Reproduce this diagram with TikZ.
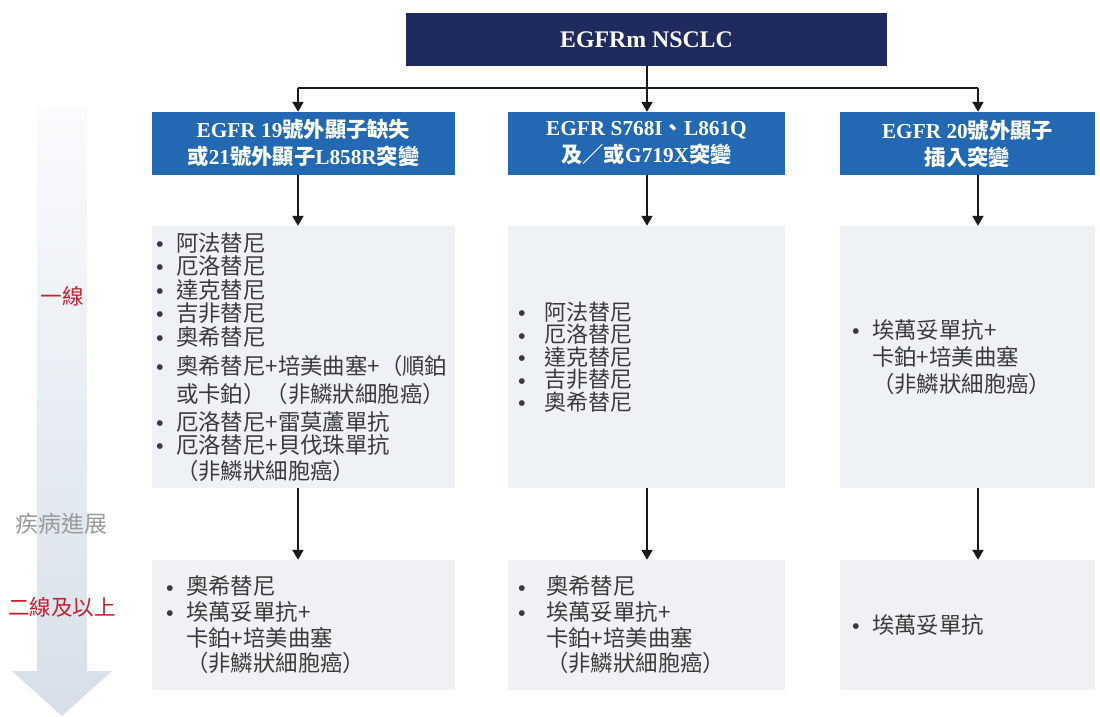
\documentclass[tikz,border=0pt]{standalone}
\usepackage{fontspec}
\setmainfont{Liberation Serif}
\newfontfamily\cjk{Noto Sans CJK TC}
\newfontfamily\lat{Liberation Serif}
\newfontfamily\sym{DejaVu Sans}
\usetikzlibrary{arrows.meta,calc}
\definecolor{navy}{HTML}{1F2A5E}
\definecolor{hblue}{HTML}{2268B2}
\definecolor{firstfill}{HTML}{EEF2F6}
\definecolor{secfill}{HTML}{F0F1F4}
\definecolor{txt}{HTML}{3A3A3A}
\definecolor{lred}{HTML}{C8202F}
\definecolor{lgray}{HTML}{9A9A9A}
\definecolor{arrtop}{HTML}{FAFBFD}
\definecolor{arrbot}{HTML}{D6DFE9}
\newcommand\bl[1]{\makebox[#1][l]{\hspace*{1pt}\raisebox{4.6pt}{\sym\fontsize{7.5}{8}\selectfont ●}}}
\newcommand\ind[1]{\hspace*{#1}}
\tikzset{
  topbox/.style={fill=navy, text=white, minimum width=481pt, minimum height=53pt, inner sep=0pt,
    font=\lat\bfseries\fontsize{23.8}{26}\selectfont},
  headbox/.style={fill=hblue, text=white, minimum height=63pt, inner sep=0pt, align=center,
    font=\fontsize{21.3}{27}\selectfont},
  firstbox/.style={fill=firstfill, text=txt, minimum height=262pt, inner ysep=0pt, align=left,
    font=\cjk\fontsize{22.4}{23.5}\selectfont},
  secbox/.style={fill=secfill, text=txt, minimum height=130pt, inner ysep=0pt, align=left,
    font=\cjk\fontsize{22.4}{25.7}\selectfont},
  conn/.style={line width=2pt, draw=black!90},
  arr/.style={conn, -{Triangle[width=11pt,length=10pt]}},
  redlbl/.style={text=lred, font=\cjk\fontsize{21.5}{24}\selectfont, inner sep=0pt},
  graylbl/.style={text=lgray, font=\cjk\fontsize{23}{24}\selectfont, inner sep=0pt},
}
\newcommand\hl[1]{{\lat\bfseries #1}}
\newcommand\hc[1]{{\cjk\bfseries #1}}
\begin{document}
\begin{tikzpicture}[x=1pt,y=-1pt]
\useasboundingbox (0,0) rectangle (1100,716);
% progression arrow
\shade[top color=arrtop, bottom color=arrbot]
  (37,108) -- (87,108) -- (87,671) -- (112,671) -- (62,716) -- (12,671) -- (37,671) -- cycle;
\node[redlbl] (first) at (62,296) {一線};
\node[graylbl] (prog) at (62,524) {疾病進展};
\node[redlbl] (second) at (62,607) {二線及以上};

% top
\node[topbox] (top) at (646.5,39.5) {EGFRm NSCLC};
% headers
\node[headbox, minimum width=303pt] (b1) at (303.5,143.5)
  {\hl{EGFR 19}\hc{號外顯子缺失}\\\hc{或}\hl{21}\hc{號外顯子}\hl{L858R}\hc{突變}};
\node[headbox, minimum width=277pt] (b2) at (646.5,143.5)
  {\hl{EGFR S768I}\hc{、}\hl{L861Q}\\\hc{及／或}\hl{G719X}\hc{突變}};
\node[headbox, minimum width=255pt] (b3) at (967.5,143.5)
  {\hl{EGFR 20}\hc{號外顯子}\\\hc{插入突變}};

% first line boxes
\node[firstbox, inner xsep=3.5pt, text width=296pt] (f1) at (303.5,357)
  {\bl{20.5pt}阿法替尼\\
   \bl{20.5pt}厄洛替尼\\
   \bl{20.5pt}達克替尼\\
   \bl{20.5pt}吉非替尼\\
   \bl{20.5pt}奧希替尼\\[5.5pt]
   \bl{20.5pt}奧希替尼+培美曲塞+（順鉑\\[4.5pt]
   \ind{20.5pt}或卡鉑）（非鱗狀細胞癌）\\[4.5pt]
   \bl{20.5pt}厄洛替尼+雷莫蘆單抗\\
   \bl{20.5pt}厄洛替尼+貝伐珠單抗\\[2.5pt]
   \ind{20.5pt}（非鱗狀細胞癌）};
\node[firstbox, inner xsep=9.5pt, text width=258pt,
      font=\cjk\fontsize{22}{22.5}\selectfont] (f2) at (646.5,357)
  {\bl{26.5pt}阿法替尼\\
   \bl{26.5pt}厄洛替尼\\
   \bl{26.5pt}達克替尼\\
   \bl{26.5pt}吉非替尼\\
   \bl{26.5pt}奧希替尼};
\node[firstbox, inner xsep=11.5pt, text width=232pt,
      font=\cjk\fontsize{22.4}{27}\selectfont] (f3) at (967.5,357)
  {\bl{20.5pt}埃萬妥單抗+\\
   \ind{20.5pt}卡鉑+培美曲塞\\
   \ind{20.5pt}（非鱗狀細胞癌）};

% second line boxes
\node[secbox, inner xsep=13.5pt, text width=276pt] (s1) at (303.5,625)
  {\bl{20.5pt}奧希替尼\\
   \bl{20.5pt}埃萬妥單抗+\\
   \ind{20.5pt}卡鉑+培美曲塞\\
   \ind{20.5pt}（非鱗狀細胞癌）};
\node[secbox, inner xsep=9.5pt, text width=258pt] (s2) at (646.5,625)
  {\bl{28.5pt}奧希替尼\\
   \bl{28.5pt}埃萬妥單抗+\\
   \ind{28.5pt}卡鉑+培美曲塞\\
   \ind{28.5pt}（非鱗狀細胞癌）};
\node[secbox, inner xsep=11.5pt, text width=232pt] (s3) at (967.5,625)
  {\bl{20.5pt}埃萬妥單抗};

% connectors
\coordinate (c1) at (298,88);
\coordinate (j) at (647,88);
\coordinate (c3) at (978,88);
\draw[conn] (top.south -| j) -- (j);
\draw[conn] (c1) -- (c3);
\draw[arr] (c1) -- (c1 |- b1.north);
\draw[arr] (j) -- (j |- b2.north);
\draw[arr] (c3) -- (c3 |- b3.north);
\draw[arr] (c1 |- b1.south) -- (c1 |- f1.north);
\draw[arr] (j |- b2.south) -- (j |- f2.north);
\draw[arr] (c3 |- b3.south) -- (c3 |- f3.north);
\draw[arr] (c1 |- f1.south) -- (c1 |- s1.north);
\draw[arr] (j |- f2.south) -- (j |- s2.north);
\draw[arr] (c3 |- f3.south) -- (c3 |- s3.north);
\end{tikzpicture}
\end{document}
